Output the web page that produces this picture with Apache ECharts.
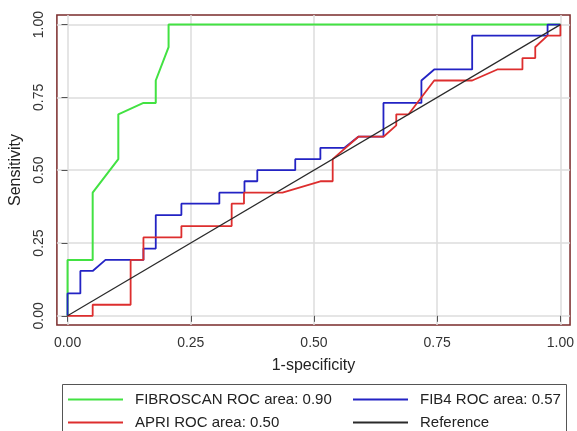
<!DOCTYPE html>
<html>
<head>
<meta charset="utf-8">
<script src="https://cdn.jsdelivr.net/npm/echarts@6/dist/echarts.min.js"></script>
<style>
  html, body { margin: 0; padding: 0; background: #fff; }
  #chart { width: 577px; height: 431px; }
</style>
</head>
<body>
<div id="chart"></div>
<script>
// tick positions (same for both axes)
const tickValues = [0, 0.25, 0.5, 0.75, 1]

// FIBROSCAN ROC area: 0.90
const fibroscanX = [0, 0, 0.051, 0.051, 0.103, 0.103, 0.154, 0.179, 0.179, 0.205, 0.205, 1]
const fibroscanY = [0, 0.192, 0.192, 0.423, 0.538, 0.692, 0.731, 0.731, 0.808, 0.923, 1, 1]

// FIB4 ROC area: 0.57
const fib4X = [0, 0, 0.026, 0.026, 0.051, 0.077, 0.154, 0.154, 0.179, 0.179, 0.231, 0.231, 0.308, 0.308,
  0.359, 0.359, 0.385, 0.385, 0.462, 0.462, 0.513, 0.513, 0.562, 0.59, 0.641, 0.641, 0.718, 0.718,
  0.744, 0.821, 0.821, 0.974, 0.974, 1]
const fib4Y = [0, 0.077, 0.077, 0.154, 0.154, 0.192, 0.192, 0.231, 0.231, 0.346, 0.346, 0.385, 0.385, 0.423,
  0.423, 0.462, 0.462, 0.5, 0.5, 0.538, 0.538, 0.577, 0.577, 0.615, 0.615, 0.731, 0.731, 0.808,
  0.846, 0.846, 0.962, 0.962, 1, 1]

// APRI ROC area: 0.50
const apriX = [0, 0.051, 0.051, 0.128, 0.128, 0.154, 0.154, 0.231, 0.231, 0.333, 0.333, 0.358, 0.358,
  0.436, 0.513, 0.538, 0.538, 0.59, 0.641, 0.667, 0.667, 0.692, 0.744, 0.821, 0.872, 0.923, 0.923,
  0.949, 0.949, 0.974, 1, 1]
const apriY = [0, 0, 0.038, 0.038, 0.192, 0.192, 0.269, 0.269, 0.308, 0.308, 0.385, 0.385, 0.423,
  0.423, 0.462, 0.462, 0.538, 0.615, 0.615, 0.654, 0.692, 0.692, 0.808, 0.808, 0.846, 0.846, 0.885,
  0.885, 0.923, 0.962, 0.962, 1]

// reference diagonal
const refX = [0, 1]
const refY = [0, 1]

const names = [
  'FIBROSCAN ROC area: 0.90',
  'FIB4 ROC area: 0.57',
  'APRI ROC area: 0.50',
  'Reference'
]
const colors = ['#42e242', '#2323c4', '#dd2e2e', '#2a2a2a']

const pairs = (xs, ys) => xs.map((x, i) => [x, ys[i]])

const chart = echarts.init(document.getElementById('chart'), null, { renderer: 'canvas' })

const legendCommon = {
  orient: 'vertical',
  top: 392,
  padding: 0,
  itemGap: 8,
  itemWidth: 55,
  itemHeight: 2,
  icon: 'rect',
  selectedMode: false,
  textStyle: {
    fontFamily: 'Liberation Sans, Arial, sans-serif',
    fontSize: 15,
    lineHeight: 14,
    color: '#222',
    padding: [0, 0, 0, 7]
  }
}

const axisCommon = {
  type: 'value',
  axisLine: { show: false },
  axisTick: {
    show: true,
    length: 6,
    lineStyle: { color: '#555', width: 1 },
    customValues: tickValues
  },
  axisLabel: {
    customValues: tickValues,
    formatter: v => v.toFixed(2),
    fontFamily: 'Liberation Sans, Arial, sans-serif',
    fontSize: 14,
    color: '#333'
  },
  splitLine: { show: true, lineStyle: { color: '#dcdcdc', width: 1.5 } },
  nameLocation: 'middle',
  nameTextStyle: {
    fontFamily: 'Liberation Sans, Arial, sans-serif',
    fontSize: 16,
    color: '#222'
  }
}

const option = {
  animation: false,
  backgroundColor: '#fff',
  grid: {
    left: 56,
    top: 15,
    width: 516,
    height: 310,
    show: true,
    borderColor: '#7a2b2b',
    borderWidth: 1.5,
    backgroundColor: 'transparent'
  },
  xAxis: {
    ...axisCommon,
    min: -0.0216,
    max: 1.0196,
    name: '1-specificity',
    nameGap: 33,
    axisLabel: { ...axisCommon.axisLabel, margin: 11 }
  },
  yAxis: {
    ...axisCommon,
    min: -0.0316,
    max: 1.033,
    name: 'Sensitivity',
    nameGap: 24,
    axisLabel: { ...axisCommon.axisLabel, rotate: 90, margin: 11 }
  },
  legend: [
    { ...legendCommon, left: 68, data: [names[0], names[2]] },
    { ...legendCommon, left: 353, data: [names[1], names[3]] }
  ],
  graphic: [{
    type: 'rect',
    shape: { x: 62.5, y: 384.5, width: 504, height: 60 },
    style: { fill: 'none', stroke: '#555', lineWidth: 1 },
    silent: true
  }],
  series: [
    { name: names[0], data: pairs(fibroscanX, fibroscanY), width: 2 },
    { name: names[1], data: pairs(fib4X, fib4Y), width: 1.8 },
    { name: names[2], data: pairs(apriX, apriY), width: 1.8 },
    { name: names[3], data: pairs(refX, refY), width: 1.2 }
  ].map((s, i) => ({
    name: s.name,
    type: 'line',
    data: s.data,
    showSymbol: false,
    symbol: 'none',
    color: colors[i],
    lineStyle: { color: colors[i], width: s.width },
    itemStyle: { color: colors[i] }
  }))
}

chart.setOption(option)
</script>
</body>
</html>
